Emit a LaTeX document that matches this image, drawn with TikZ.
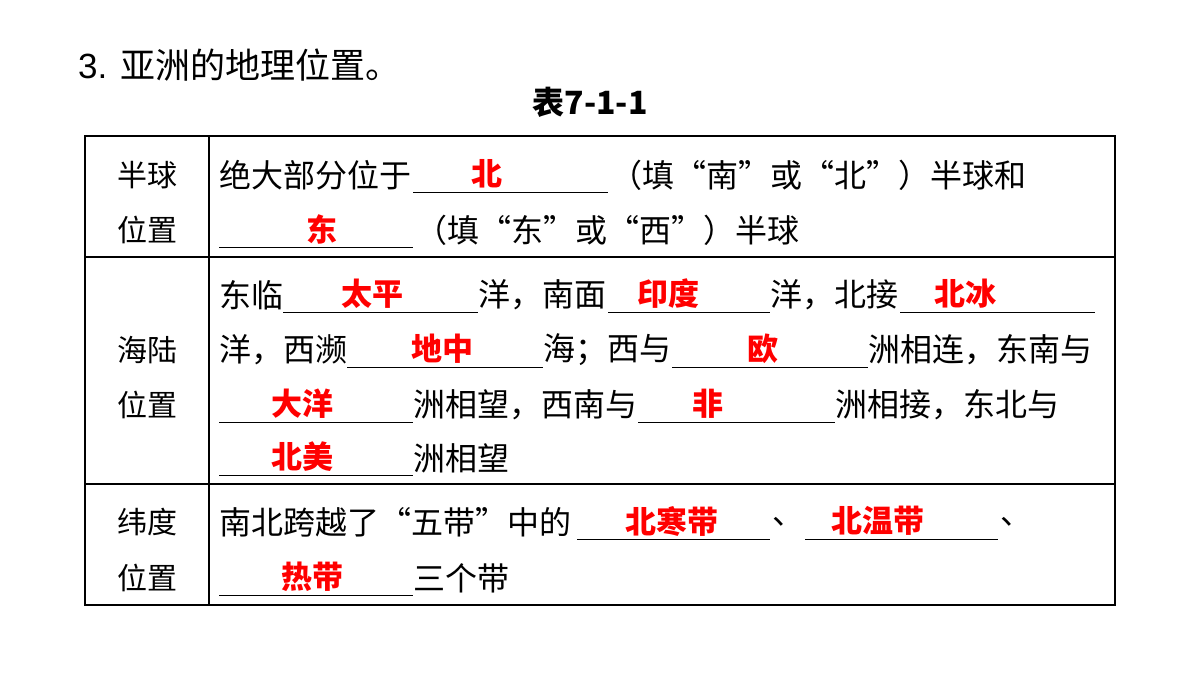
\documentclass[tikz,border=0pt]{standalone}
\usepackage{fontspec}
\setmainfont{Noto Sans CJK SC}
\newfontfamily\titlefont{Liberation Sans}
\usetikzlibrary{positioning}
\tikzset{
  txt/.style={anchor=west,inner sep=0pt,font=\fontsize{32}{34}\selectfont},
  ans/.style={inner sep=0pt,text=red,font=\fontsize{31}{33}\selectfont\bfseries},
  lbl/.style={inner sep=0pt,font=\fontsize{30}{32}\selectfont},
  grid line/.style={line width=1.2pt}
}
% blank: from x1 to x2 at line y, answer centred at xc
\newcommand{\fillblank}[5]{%
  \draw[line width=1pt] (#1,#3+17) -- (#2,#3+17);
  \node[ans] at (#5,#3-1) {#4};}
\begin{document}
\begin{tikzpicture}[x=1pt,y=-1pt]
\useasboundingbox (0,0) rectangle (1200,675);
\node[anchor=west,inner sep=0pt,font=\titlefont\fontsize{35}{37}\selectfont] (title) at (78,65) {3. \fontspec{Noto Sans CJK SC}亚洲的地理位置。};
\node[inner sep=0pt,font=\fontsize{32}{34}\selectfont\bfseries] (caption) at (590,102) {表7-1-1};
% table frame
\draw[grid line] (85,136) rectangle (1115,605);
\draw[grid line] (209,136) -- (209,605);
\draw[grid line] (85,257) -- (1115,257);
\draw[grid line] (85,484) -- (1115,484);
% left column
\node[lbl] at (147,175) {半球};
\node[lbl] at (147,230) {位置};
\node[lbl] at (147,350) {海陆};
\node[lbl] at (147,405) {位置};
\node[lbl] at (147,522) {纬度};
\node[lbl] at (147,578) {位置};
% row 1
\node[txt] at (219,175) {绝大部分位于};
\fillblank{413}{608}{175}{北}{487}
\node[txt] at (610,175) {（填“南”或“北”）半球和};
\fillblank{219}{413}{230}{东}{322}
\node[txt] at (415,230) {（填“东”或“西”）半球};
% row 2
\node[txt] at (219,295) {东临};
\fillblank{283}{478}{295}{太平}{372}
\node[txt] at (478,295) {洋，南面};
\fillblank{608}{770}{295}{印度}{668}
\node[txt] at (770,295) {洋，北接};
\fillblank{900}{1095}{295}{北冰}{965}
\node[txt] at (219,350) {洋，西濒};
\fillblank{347}{543}{350}{地中}{442}
\node[txt] at (543,350) {海；西与};
\fillblank{672}{868}{350}{欧}{763}
\node[txt] at (868,350) {洲相连，东南与};
\fillblank{219}{413}{405}{大洋}{302}
\node[txt] at (413,405) {洲相望，西南与};
\fillblank{638}{835}{405}{非}{708}
\node[txt] at (835,405) {洲相接，东北与};
\fillblank{219}{413}{458}{北美}{302}
\node[txt] at (413,458) {洲相望};
% row 3
\node[txt] at (219,522) {南北跨越了“五带”中的};
\fillblank{577}{770}{522}{北寒带}{672}
\node[txt] at (772,522) {、};
\fillblank{805}{998}{522}{北温带}{878}
\node[txt] at (1000,522) {、};
\fillblank{219}{413}{578}{热带}{312}
\node[txt] at (413,578) {三个带};
\end{tikzpicture}
\end{document}
